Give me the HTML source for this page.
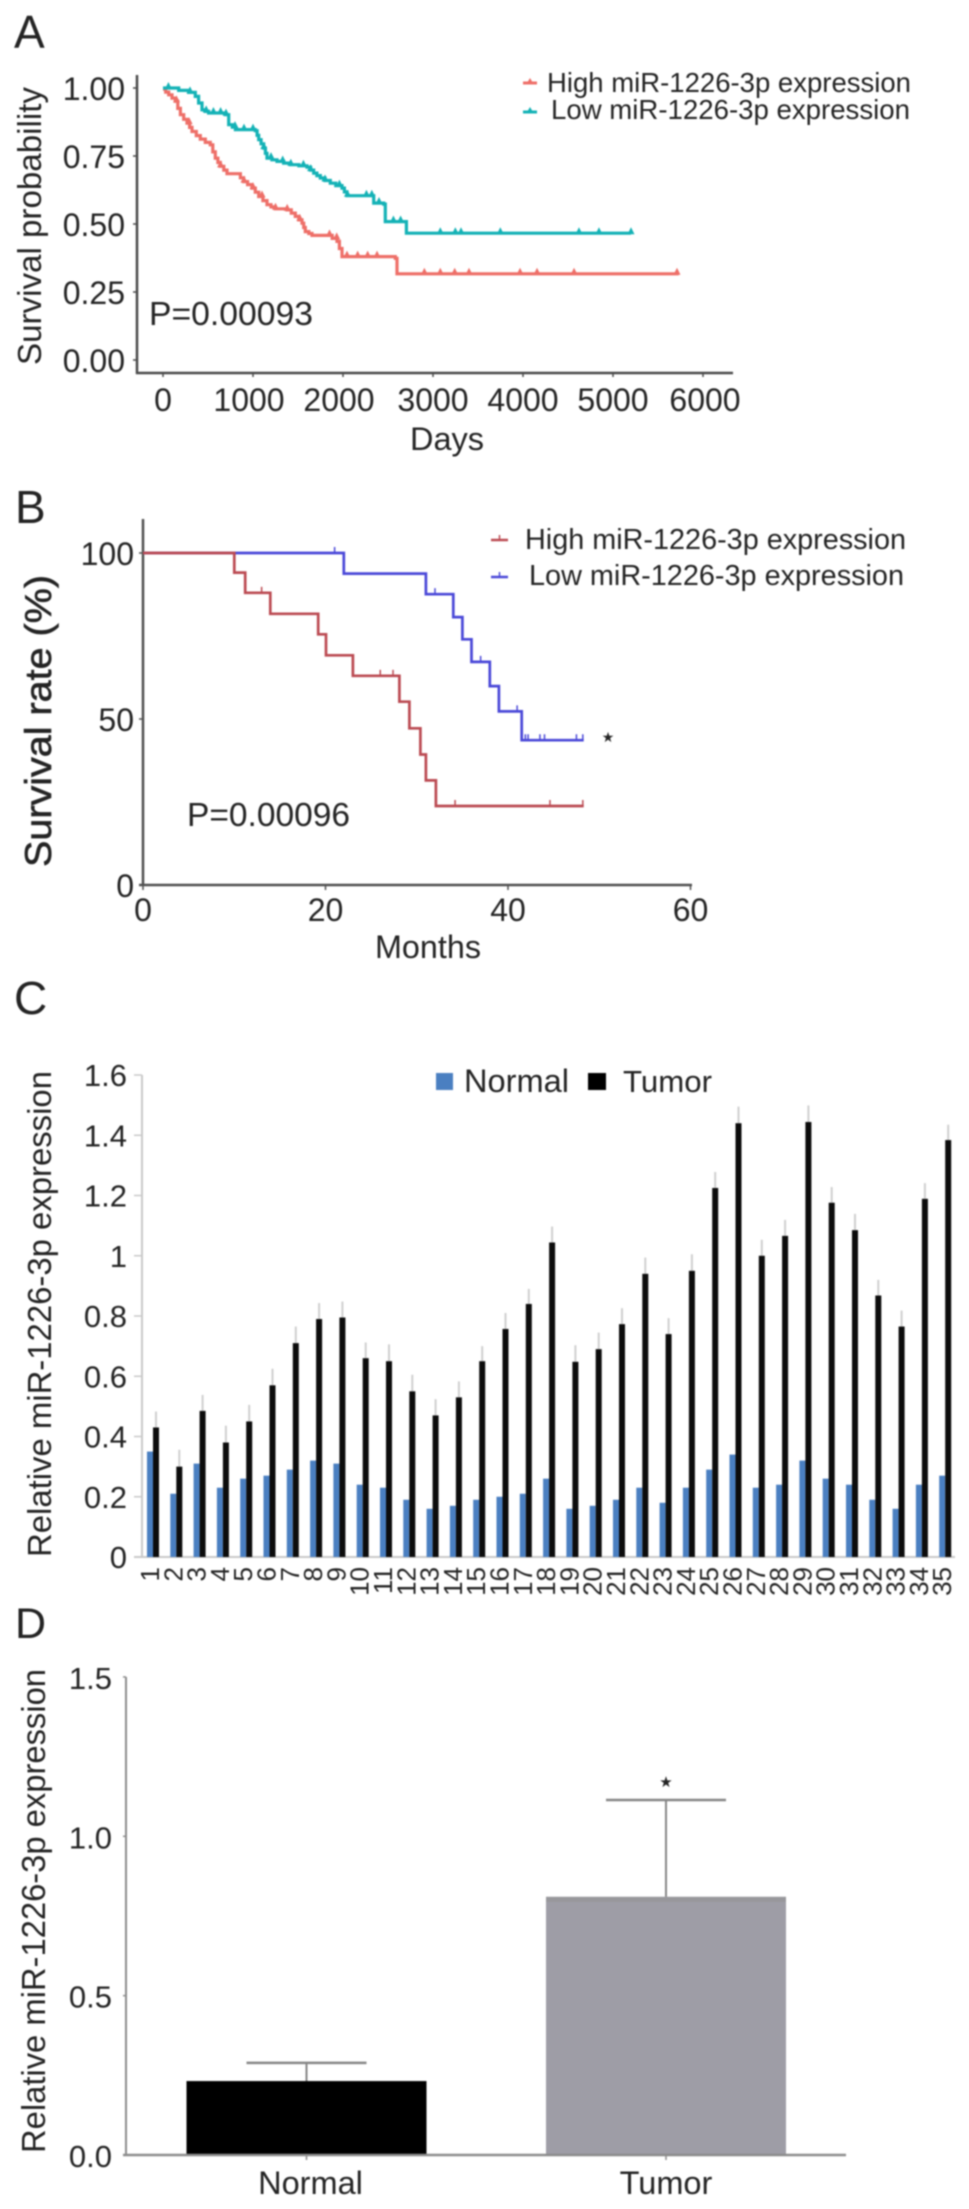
<!DOCTYPE html>
<html lang="en">
<head>
<meta charset="utf-8">
<title>miR-1226-3p survival and expression figure</title>
<style>
html,body{margin:0;padding:0;background:#fff;}
svg{display:block;filter:blur(.7px);}
text{font-family:"Liberation Sans",Arial,sans-serif;fill:#242424;}
</style>
</head>
<body>
<svg id="fig" xmlns="http://www.w3.org/2000/svg" width="969" height="2209" viewBox="0 0 969 2209">
  <rect width="969" height="2209" fill="#fff"/>

  <text x="14" y="48" font-size="46">A</text>
  <text x="15" y="523" font-size="46">B</text>
  <text x="14" y="1014" font-size="46">C</text>
  <text x="15" y="1638" font-size="43">D</text>

  <!-- Panel A static -->
  <g id="panelA"></g>
  <text transform="translate(41,365) rotate(-90)" font-size="33" textLength="278" lengthAdjust="spacingAndGlyphs">Survival probability</text>
  <text x="410" y="450" font-size="32.5" textLength="74" lengthAdjust="spacingAndGlyphs">Days</text>
  <text x="149" y="325" font-size="33" textLength="164" lengthAdjust="spacingAndGlyphs">P=0.00093</text>
  <g>
    <line x1="523" x2="537" y1="83" y2="83" stroke="#ee6f68" stroke-width="3"/>
    <path d="M527 83 L530 78 L533 83 Z" fill="#ee6f68"/>
    <text x="547" y="92" font-size="27.5" textLength="364" lengthAdjust="spacingAndGlyphs">High miR-1226-3p expression</text>
    <line x1="523" x2="537" y1="112" y2="112" stroke="#14b2b6" stroke-width="3"/>
    <path d="M527 112 L530 107 L533 112 Z" fill="#14b2b6"/>
    <text x="551" y="119" font-size="27.5" textLength="359" lengthAdjust="spacingAndGlyphs">Low miR-1226-3p expression</text>
  </g>

  <!-- Panel B static -->
  <g id="panelB"></g>
  <text transform="translate(51,867) rotate(-90)" font-size="37" textLength="292" lengthAdjust="spacingAndGlyphs" stroke="#242424" stroke-width=".6">Survival rate (%)</text>
  <text x="375" y="958" font-size="32.3" textLength="106" lengthAdjust="spacingAndGlyphs">Months</text>
  <text x="187" y="826" font-size="33" textLength="163" lengthAdjust="spacingAndGlyphs">P=0.00096</text>
  <text x="608" y="742" font-size="14" text-anchor="middle" style="font-family:'DejaVu Sans',sans-serif">★</text>
  <g>
    <line x1="491" x2="508" y1="540" y2="540" stroke="#bb4a52" stroke-width="2.5"/>
    <line x1="499.500" x2="499.500" y1="540" y2="535" stroke="#bb4a52" stroke-width="1.5"/>
    <text x="525" y="549" font-size="28.8" textLength="381" lengthAdjust="spacingAndGlyphs">High miR-1226-3p expression</text>
    <line x1="491" x2="508" y1="577" y2="577" stroke="#4a48d8" stroke-width="2.5"/>
    <line x1="499.500" x2="499.500" y1="577" y2="572" stroke="#4a48d8" stroke-width="1.5"/>
    <text x="529" y="585" font-size="28.8" textLength="375" lengthAdjust="spacingAndGlyphs">Low miR-1226-3p expression</text>
  </g>

  <!-- Panel C static -->
  <g id="panelC"></g>
  <text transform="translate(51,1557) rotate(-90)" font-size="33" textLength="486" lengthAdjust="spacingAndGlyphs">Relative miR-1226-3p expression</text>
  <g>
    <rect x="436" y="1073" width="17" height="17" fill="#4a7fc1"/>
    <text x="464" y="1092" font-size="32" textLength="105" lengthAdjust="spacingAndGlyphs">Normal</text>
    <rect x="588" y="1073" width="18" height="17" fill="#000"/>
    <text x="623" y="1092" font-size="31" textLength="89" lengthAdjust="spacingAndGlyphs">Tumor</text>
  </g>

  <!-- Panel D static -->
  <g id="panelD"></g>
  <text transform="translate(45,2153) rotate(-90)" font-size="33" textLength="484" lengthAdjust="spacingAndGlyphs">Relative miR-1226-3p expression</text>
  <text x="666" y="1787" font-size="15" text-anchor="middle" style="font-family:'DejaVu Sans',sans-serif">★</text>
</svg>

<script>
// ---------- Panel A data ----------
const aYTicks = [0, 0.25, 0.5, 0.75, 1];
const aYTickLabels = ['0.00', '0.25', '0.50', '0.75', '1.00'];
const aXTicks = [0, 1000, 2000, 3000, 4000, 5000, 6000];
const aHighDays = [0,30,63,100,137,165,193,230,267,295,322,370,415,470,526,553,581,610,637,675,711,822,860,896,940,989,1025,1063,1110,1156,1200,1248,1378,1425,1470,1510,1544,1563,1581,1620,1656,1822,1880,1933,1960,1989,2581,2600,5730];
const aHighProb = [0.996,0.985,0.975,0.963,0.951,0.925,0.902,0.885,0.871,0.855,0.84,0.825,0.812,0.8,0.791,0.765,0.742,0.726,0.712,0.698,0.685,0.685,0.67,0.656,0.645,0.632,0.617,0.601,0.586,0.571,0.563,0.556,0.552,0.54,0.528,0.515,0.503,0.487,0.472,0.465,0.458,0.458,0.447,0.436,0.41,0.38,0.374,0.317,0.317];
const aHighCensor = [150, 290, 640, 900, 1000, 1100, 1250, 1380, 1520, 1850, 1930, 2044, 2163, 2274, 2378, 2904, 3081, 3241, 3400, 3967, 4156, 4567, 5711];
const aLowDays = [0,174,285,359,395,433,470,507,693,730,770,804,1026,1045,1063,1090,1119,1138,1156,1210,1267,1340,1415,1510,1600,1640,1674,1710,1748,1800,1859,1920,1989,2015,2044,2304,2341,2452,2470,2693,2704,5200];
const aLowProb = [1,0.991,0.984,0.969,0.945,0.92,0.914,0.908,0.902,0.865,0.856,0.847,0.843,0.826,0.81,0.795,0.779,0.76,0.742,0.736,0.73,0.724,0.718,0.714,0.709,0.698,0.687,0.678,0.669,0.66,0.65,0.641,0.632,0.618,0.604,0.604,0.577,0.573,0.509,0.509,0.466,0.466];
const aLowCensor = [60, 300, 480, 560, 640, 700, 800, 900, 1000, 1120, 1200, 1330, 1420, 1560, 1640, 1800, 1960, 2050, 2260, 2320, 2400, 2560, 2640, 3081, 3248, 3311, 3748, 4622, 4844, 5200];

// ---------- Panel B data ----------
const bYTicks = [0, 50, 100];
const bXTicks = [0, 20, 40, 60];
const bHighMonths = [0, 10, 11.2, 13.95, 19.2, 20.05, 23, 28.1, 29.2, 30.4, 31, 32.1, 48.3];
const bHighRate = [100, 94.1, 88, 81.7, 75.5, 69.2, 63, 55.2, 47.2, 39.3, 31.5, 23.8, 23.8];
const bHighCensor = [13, 26, 27.4, 34.2, 44.6, 48.2];
const bLowMonths = [0, 22, 31, 34, 35, 36, 38, 39, 41.5, 48.3];
const bLowRate = [100, 93.8, 87.6, 80.7, 74, 67.2, 59.9, 52.3, 43.6, 43.6];
const bLowCensor = [21, 32, 37, 41, 41.9, 42.2, 43.5, 44, 47.5, 48.2];

// ---------- Panel C data ----------
const cCategories = ['1','2','3','4','5','6','7','8','9','10','11','12','13','14','15','16','17','18','19','20','21','22','23','24','25','26','27','28','29','30','31','32','33','34','35'];
const cYTicks = [0, 0.2, 0.4, 0.6, 0.8, 1, 1.2, 1.4, 1.6];
const cYTickLabels = ['0', '0.2', '0.4', '0.6', '0.8', '1', '1.2', '1.4', '1.6'];
const cNormal = [0.35,0.21,0.31,0.23,0.26,0.27,0.29,0.32,0.31,0.24,0.23,0.19,0.16,0.17,0.19,0.20,0.21,0.26,0.16,0.17,0.19,0.23,0.18,0.23,0.29,0.34,0.23,0.24,0.32,0.26,0.24,0.19,0.16,0.24,0.27];
const cTumor = [0.43,0.30,0.485,0.38,0.45,0.57,0.71,0.79,0.795,0.66,0.65,0.55,0.47,0.53,0.65,0.757,0.84,1.044,0.648,0.69,0.773,0.94,0.74,0.95,1.225,1.44,1.0,1.066,1.444,1.176,1.085,0.868,0.765,1.189,1.384];
const cTumorErr = [0.053,0.056,0.053,0.056,0.055,0.055,0.055,0.053,0.053,0.052,0.056,0.055,0.054,0.053,0.05,0.053,0.05,0.053,0.055,0.055,0.053,0.054,0.053,0.055,0.053,0.055,0.053,0.053,0.055,0.052,0.054,0.052,0.053,0.052,0.051];

// ---------- Panel D data ----------
const dCategories = ['Normal', 'Tumor'];
const dValues = [0.232, 0.81];
const dErrors = [0.057, 0.304];
const dYTicks = [0, 0.5, 1, 1.5];
const dYTickLabels = ['0.0', '0.5', '1.0', '1.5'];

// ---------- Axis functions ----------
const xA = d => 163 + d * 0.09;
const yA = p => 360 - p * 272;
const xB = m => 143 + m * 9.125;
const yB = r => 885 - r * 3.32;
const xC = i => 153 + i * 23.3;
const yC = v => 1557 - v * 301.25;
const xD = i => 306.5 + i * 359.5;
const yD = v => 2155 - v * 318.7;

const NS = 'http://www.w3.org/2000/svg';
function mk(parent, tag, attrs, content) {
  const el = document.createElementNS(NS, tag);
  for (const k in attrs) el.setAttribute(k, attrs[k]);
  if (content !== undefined) el.textContent = content;
  parent.appendChild(el);
  return el;
}
function stepPath(xs, ys, sx, sy) {
  let d = 'M' + sx(xs[0]).toFixed(1) + ' ' + sy(ys[0]).toFixed(1);
  for (let i = 1; i < xs.length; i++) {
    d += 'H' + sx(xs[i]).toFixed(1) + 'V' + sy(ys[i]).toFixed(1);
  }
  return d;
}
function stepValue(xs, ys, t) {
  let v = ys[0];
  for (let i = 0; i < xs.length; i++) { if (xs[i] <= t) v = ys[i]; }
  return v;
}

// ---------- Panel A ----------
const gA = document.getElementById('panelA');
{
  const axisColor = '#4a4a4a';
  const yAxis = mk(gA, 'line', {x1:137, x2:137, y1:75, y2:374, stroke:axisColor, 'stroke-width':2.5});
  
  
  const xAxis = mk(gA, 'line', {x1:136, x2:733, y1:373, y2:373, stroke:axisColor, 'stroke-width':2.5});
  
  
  aYTicks.forEach((t, i) => {
    const tick = mk(gA, 'line', {x1:133, x2:137, y1:yA(t), y2:yA(t), stroke:axisColor, 'stroke-width':1.5});
    
    
    const label = mk(gA, 'text', {x:125, y:yA(t) + 12, 'font-size':32, 'text-anchor':'end'}, aYTickLabels[i]);
    
    
  });
  aXTicks.forEach(t => {
    const tick = mk(gA, 'line', {x1:xA(t), x2:xA(t), y1:373, y2:377, stroke:axisColor, 'stroke-width':1.5});
    
    
    const nudge = (t === 1000 || t === 2000) ? -4 : (t === 6000 ? 2 : 0);
    const label = mk(gA, 'text', {x:xA(t) + nudge, y:411, 'font-size':32, 'text-anchor':'middle'}, String(t));
    
    
  });
  const highLine = mk(gA, 'path', {d:stepPath(aHighDays, aHighProb, xA, yA), fill:'none', stroke:'#ee6f68', 'stroke-width':3.2});
  
  
  const lowLine = mk(gA, 'path', {d:stepPath(aLowDays, aLowProb, xA, yA), fill:'none', stroke:'#14b2b6', 'stroke-width':3.2});
  
  
  aHighCensor.forEach(t => {
    const cx = xA(t), cy = yA(stepValue(aHighDays, aHighProb, t));
    const m = mk(gA, 'path', {d:`M${cx-3.5} ${cy+1}L${cx} ${cy-6}L${cx+3.5} ${cy+1}Z`, fill:'#ee6f68'});
    
    
  });
  aLowCensor.forEach(t => {
    const cx = xA(t), cy = yA(stepValue(aLowDays, aLowProb, t));
    const m = mk(gA, 'path', {d:`M${cx-3.5} ${cy+1}L${cx} ${cy-6}L${cx+3.5} ${cy+1}Z`, fill:'#14b2b6'});
    
    
  });
}

// ---------- Panel B ----------
const gB = document.getElementById('panelB');
{
  const axisColor = '#505050';
  const yAxis = mk(gB, 'line', {x1:143, x2:143, y1:519, y2:886, stroke:axisColor, 'stroke-width':2.5});
  
  
  const xAxis = mk(gB, 'line', {x1:139, x2:692, y1:885, y2:885, stroke:axisColor, 'stroke-width':2.5});
  
  
  bYTicks.forEach(t => {
    const tick = mk(gB, 'line', {x1:139, x2:143, y1:yB(t), y2:yB(t), stroke:axisColor, 'stroke-width':1.5});
    
    
    const label = mk(gB, 'text', {x:134, y:yB(t) + 12, 'font-size':32, 'text-anchor':'end'}, String(t));
    
    
  });
  bXTicks.forEach(t => {
    const tick = mk(gB, 'line', {x1:xB(t), x2:xB(t), y1:885, y2:890, stroke:axisColor, 'stroke-width':1.5});
    
    
    const label = mk(gB, 'text', {x:xB(t), y:921, 'font-size':32, 'text-anchor':'middle'}, String(t));
    
    
  });
  const lowLine = mk(gB, 'path', {d:stepPath(bLowMonths, bLowRate, xB, yB), fill:'none', stroke:'#4a48d8', 'stroke-width':2.7});
  
  
  const highLine = mk(gB, 'path', {d:stepPath(bHighMonths, bHighRate, xB, yB), fill:'none', stroke:'#bb4a52', 'stroke-width':2.7});
  
  
  bHighCensor.forEach(t => {
    const cx = xB(t), cy = yB(stepValue(bHighMonths, bHighRate, t));
    const m = mk(gB, 'line', {x1:cx, x2:cx, y1:cy, y2:cy - 6, stroke:'#bb4a52', 'stroke-width':1.5});
    
    
  });
  bLowCensor.forEach(t => {
    const cx = xB(t), cy = yB(stepValue(bLowMonths, bLowRate, t));
    const m = mk(gB, 'line', {x1:cx, x2:cx, y1:cy, y2:cy - 6, stroke:'#4a48d8', 'stroke-width':1.5});
    
    
  });
}

// ---------- Panel C ----------
const gC = document.getElementById('panelC');
{
  const axisColor = '#c9c9c9';
  const yAxis = mk(gC, 'line', {x1:142, x2:142, y1:1075, y2:1558, stroke:axisColor, 'stroke-width':2});
  
  
  const xAxis = mk(gC, 'line', {x1:134, x2:955, y1:1557, y2:1557, stroke:axisColor, 'stroke-width':2});
  
  
  cYTicks.forEach((t, i) => {
    const tick = mk(gC, 'line', {x1:134, x2:142, y1:yC(t), y2:yC(t), stroke:axisColor, 'stroke-width':1.5});
    
    
    const label = mk(gC, 'text', {x:127, y:yC(t) + 11, 'font-size':31, 'text-anchor':'end'}, cYTickLabels[i]);
    
    
  });
  cCategories.forEach((cat, i) => {
    const c = xC(i);
    const err = mk(gC, 'line', {x1:c + 3, x2:c + 3, y1:yC(cTumor[i]), y2:yC(cTumor[i] + cTumorErr[i]), stroke:'#cfcfcf', 'stroke-width':2});
    
    
    const nb = mk(gC, 'rect', {x:c - 6, y:yC(cNormal[i]), width:6, height:yC(0) - yC(cNormal[i]), fill:'#4a7fc1'});
    
    
    const tb = mk(gC, 'rect', {x:c, y:yC(cTumor[i]), width:6, height:yC(0) - yC(cTumor[i]), fill:'#0c0c0c'});
    
    
    const label = mk(gC, 'text', {transform:`translate(${c + 6},1567) rotate(-90)`, 'font-size':26, 'text-anchor':'end'}, cat);
    
    
  });
}

// ---------- Panel D ----------
const gD = document.getElementById('panelD');
{
  const axisColor = '#8c8c8c';
  const yAxis = mk(gD, 'line', {x1:126, x2:126, y1:1677, y2:2156, stroke:axisColor, 'stroke-width':2});
  
  
  dYTicks.forEach((t, i) => {
    const tick = mk(gD, 'line', {x1:123, x2:126, y1:yD(t), y2:yD(t), stroke:axisColor, 'stroke-width':1.5});
    
    
    const label = mk(gD, 'text', {x:112, y:yD(t) + 12, 'font-size':31, 'text-anchor':'end'}, dYTickLabels[i]);
    
    
  });
  dCategories.forEach((cat, i) => {
    const c = xD(i);
    const top = yD(dValues[i]);
    const capY = yD(dValues[i] + dErrors[i]);
    const errLine = mk(gD, 'line', {x1:c, x2:c, y1:top, y2:capY, stroke:'#868686', 'stroke-width':2});
    
    
    const cap = mk(gD, 'line', {x1:c - 60, x2:c + 60, y1:capY, y2:capY, stroke:'#868686', 'stroke-width':2.5});
    
    
    const bar = mk(gD, 'rect', {x:c - 120, y:top, width:240, height:yD(0) - top, fill:i === 0 ? '#000' : '#9e9da6'});
    
    
    if (i === 1) {
      const strip = mk(gD, 'rect', {x:c - 120, y:top, width:240, height:5, fill:'#97979b'});
      
      
    }
    const tick = mk(gD, 'line', {x1:c, x2:c, y1:2155, y2:2160, stroke:axisColor, 'stroke-width':1.5});
    
    
    const label = mk(gD, 'text', {x:c + (i === 0 ? 4 : 0), y:2194, 'font-size':32.5, 'text-anchor':'middle'}, cat);
    
    
  });
  const xAxis = mk(gD, 'line', {x1:123, x2:846, y1:2155, y2:2155, stroke:axisColor, 'stroke-width':2.5});
  
  
}
</script>
</body>
</html>
